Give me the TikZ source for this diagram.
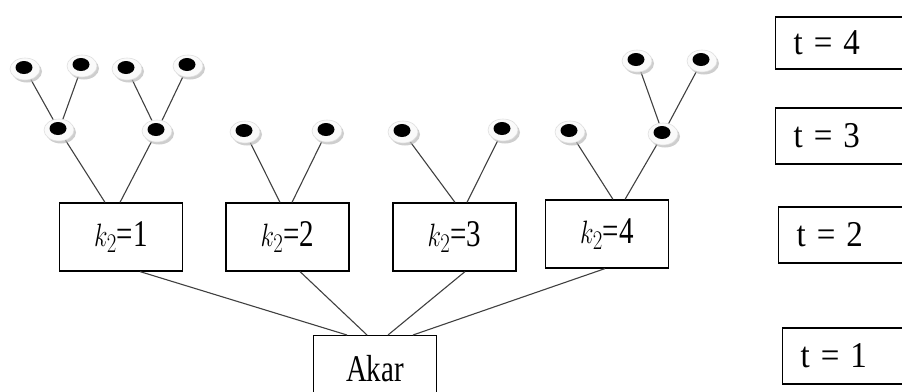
\documentclass[tikz,border=0pt]{standalone}
\usepackage{fontspec}
\setmainfont{Liberation Serif}
\usetikzlibrary{shapes.geometric,shadows}
\begin{document}
\begin{tikzpicture}[x=1pt,y=-1pt,
  dot/.style={ellipse, minimum width=30pt, minimum height=22pt, inner sep=0pt,
    fill=gray!4, draw=gray!25, line width=0.6pt,
    drop shadow={fill=gray!55, opacity=0.7, shadow xshift=2pt, shadow yshift=-2.5pt},
    path picture={\fill[black] ([xshift=-1pt,yshift=1.5pt]path picture bounding box.center) ellipse (8.5pt and 6.5pt);}},
  edge/.style={draw=black!75, line width=1.1pt},
  kbox/.style={draw, line width=1.2pt, minimum width=123pt, minimum height=68pt, inner sep=0pt, font=\fontsize{29}{34}\selectfont},
  tbox/.style={draw, line width=1.2pt, anchor=west, text width=124pt, inner xsep=18pt, inner ysep=0pt, align=left, font=\fontsize{33}{38}\selectfont}]
\useasboundingbox (0,0) rectangle (902,391);
% right-hand level boxes
\node[tbox, minimum height=52pt] (t4) at (775,43) {\scalebox{1}[1.1]{t = 4}};
\node[tbox, minimum height=56pt] (t3) at (775,136) {\scalebox{1}[1.1]{t = 3}};
\node[tbox, minimum height=56pt] (t2) at (778,235) {\scalebox{1}[1.1]{t = 2}};
\node[tbox, minimum height=56pt] (t1) at (782,356) {\scalebox{1}[1.1]{t = 1}};
% k boxes
\node[kbox] (b1) at (121,237) {\scalebox{1}[1.3]{$k_2$=1}};
\node[kbox] (b2) at (287.5,237) {\scalebox{1}[1.3]{$k_2$=2}};
\node[kbox] (b3) at (454.5,237) {\scalebox{1}[1.3]{$k_2$=3}};
\node[kbox] (b4) at (607,234) {\scalebox{1}[1.3]{$k_2$=4}};
\node[kbox, minimum height=70pt, anchor=north] (akar) at (375,335) {\raisebox{4pt}{\scalebox{1}[1.3]{Akar}}};
% connectors box -> root
\draw[edge] ([xshift=19pt]b1.south) -- ([xshift=-28pt]akar.north);
\draw[edge] ([xshift=12.5pt]b2.south) -- ([xshift=-8pt]akar.north);
\draw[edge] ([xshift=10.5pt]b3.south) -- ([xshift=13pt]akar.north);
\draw[edge] ([xshift=-2pt]b4.south) -- ([xshift=38pt]akar.north);
% dots
\coordinate (m1) at (59,130);
\coordinate (m2) at (157,131);
\coordinate (m3) at (245,132);
\coordinate (m4) at (327,131);
\coordinate (m5) at (403,132);
\coordinate (m6) at (503,130);
\coordinate (m7) at (570,132);
\coordinate (m8) at (663,134);
\coordinate (l1) at (25,69);
\coordinate (l2) at (82,66);
\coordinate (l3) at (127,69);
\coordinate (l4) at (188,66);
\coordinate (r1) at (637,61);
\coordinate (r2) at (702,61);
% dot-to-box connectors
\draw[edge] (m1) -- ([xshift=-16pt]b1.north);
\draw[edge] (m2) -- ([xshift=-1pt]b1.north);
\draw[edge] (m3) -- ([xshift=-7.5pt]b2.north);
\draw[edge] (m4) -- ([xshift=4.5pt]b2.north);
\draw[edge] (m5) -- ([xshift=0.5pt]b3.north);
\draw[edge] (m6) -- ([xshift=12.5pt]b3.north);
\draw[edge] (m7) -- ([xshift=6pt]b4.north);
\draw[edge] (m8) -- ([xshift=18pt]b4.north);
\draw[edge] (l1) -- (m1);
\draw[edge] (l2) -- (m1);
\draw[edge] (l3) -- (m2);
\draw[edge] (l4) -- (m2);
\draw[edge] (r1) -- (m8);
\draw[edge] (r2) -- (m8);
\foreach \d in {m1,m2,m3,m4,m5,m6,m7,m8,l1,l2,l3,l4,r1,r2}
  \node[dot] (n\d) at (\d) {};
\end{tikzpicture}
\end{document}
